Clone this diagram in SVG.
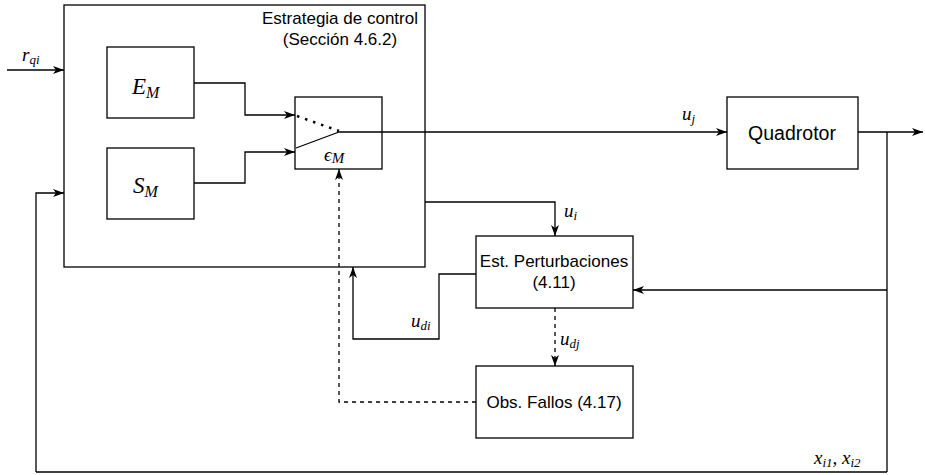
<svg xmlns="http://www.w3.org/2000/svg" width="925" height="475" viewBox="0 0 925 475">
<style>
.box{fill:#fff;stroke:#000;stroke-width:1.3}
.ln{fill:none;stroke:#000;stroke-width:1.3}
.dash{stroke-dasharray:4 4}
.t{font-family:"Liberation Sans",Arial,sans-serif;font-size:17px;fill:#000}
.m{font-family:"Liberation Serif","Times New Roman",serif;font-style:italic;font-size:19px;fill:#000}
.s{font-size:13px}
</style>
<defs>
<marker id="ar" viewBox="0 0 11 10" refX="11" refY="5" markerWidth="11" markerHeight="10" markerUnits="userSpaceOnUse" orient="auto">
<path d="M0,1 L11,5 L0,9 L3,5 Z" fill="#000"/>
</marker>
</defs>
<g id="control">
<rect class="box" x="64" y="5" width="361" height="262"/>
<text class="t" x="340" y="24" text-anchor="middle">Estrategia de control</text>
<text class="t" x="340" y="45" text-anchor="middle">(Sección 4.6.2)</text>
</g>
<g id="EM">
<rect class="box" x="107" y="47" width="87" height="71"/>
<text class="m" x="132" y="94" style="font-size:23px">E<tspan dy="4" style="font-size:16px">M</tspan></text>
</g>
<g id="SM">
<rect class="box" x="107" y="148" width="87" height="71"/>
<text class="m" x="133" y="193" style="font-size:23px">S<tspan dy="4" style="font-size:16px">M</tspan></text>
</g>
<g id="switch">
<rect class="box" x="295" y="97" width="87" height="72"/>
<path class="ln" d="M296,148 L339,132"/>
<path d="M297,116 L339,131" fill="none" stroke="#000" stroke-width="2.5" stroke-dasharray="2.5 6"/>
<text class="m" x="324" y="161" style="font-size:19px">ϵ<tspan dy="2" style="font-size:15px">M</tspan></text>
</g>
<g id="quadrotor">
<rect class="box" x="727" y="97" width="131" height="72"/>
<text class="t" x="792" y="140" text-anchor="middle" style="font-size:19.5px">Quadrotor</text>
</g>
<g id="estimator">
<rect class="box" x="476" y="236" width="157" height="72"/>
<text class="t" x="554" y="267" text-anchor="middle">Est. Perturbaciones</text>
<text class="t" x="554" y="288" text-anchor="middle">(4.11)</text>
</g>
<g id="observer">
<rect class="box" x="476" y="366" width="157" height="72"/>
<text class="t" x="554" y="408" text-anchor="middle">Obs. Fallos (4.17)</text>
</g>
<g id="connectors">
<path class="ln" d="M7,70 H64" marker-end="url(#ar)"/>
<path class="ln" d="M36,472 V193 H64" marker-end="url(#ar)"/>
<path class="ln" d="M36,472 H887"/>
<path class="ln" d="M194,83 H245 V115 H295" marker-end="url(#ar)"/>
<path class="ln" d="M194,183 H245 V152 H295" marker-end="url(#ar)"/>
<path class="ln" d="M339,132 H727" marker-end="url(#ar)"/>
<path class="ln" d="M858,132 H923" marker-end="url(#ar)"/>
<path class="ln" d="M887,132 V472"/>
<path class="ln" d="M887,290 H633" marker-end="url(#ar)"/>
<path class="ln" d="M425,202 H555 V236" marker-end="url(#ar)"/>
<path class="ln" d="M476,274 H439 V339 H353 V267" marker-end="url(#ar)"/>
<path class="ln dash" d="M555,308 V366" marker-end="url(#ar)"/>
<path class="ln dash" d="M476,402 H339 V169" marker-end="url(#ar)"/>
</g>
<g id="labels">
<text class="m" x="22" y="61">r<tspan dy="3" class="s">qi</tspan></text>
<text class="m" x="682" y="120">u<tspan dy="3" class="s">j</tspan></text>
<text class="m" x="564" y="217">u<tspan dy="3" class="s">i</tspan></text>
<text class="m" x="560" y="345">u<tspan dy="3" class="s">dj</tspan></text>
<text class="m" x="411" y="327">u<tspan dy="3" class="s">di</tspan></text>
<text class="m" x="814" y="464">x<tspan dy="3" class="s">i1</tspan><tspan dy="-3">, x</tspan><tspan dy="3" class="s">i2</tspan></text>
</g>
</svg>
